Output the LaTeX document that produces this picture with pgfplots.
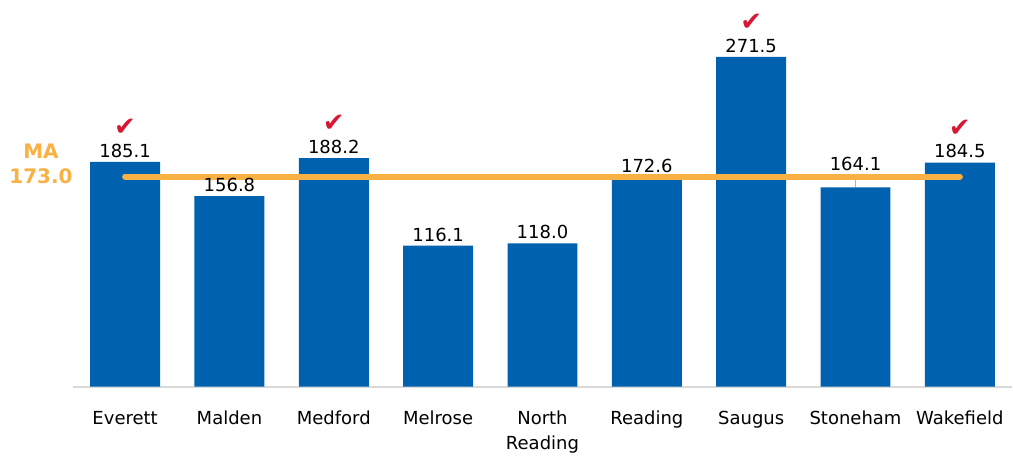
\documentclass[border=0pt]{standalone}
\usepackage{pgfplots}
\pgfplotsset{compat=1.18}
\usepackage{fontspec}
\setmainfont{DejaVu Sans}
\newfontfamily\checkfont{DejaVu Sans}
\definecolor{barblue}{RGB}{0,97,175}
\definecolor{maorange}{RGB}{248,177,66}
\definecolor{checkred}{RGB}{214,24,52}
\definecolor{axisgray}{RGB}{217,217,217}
\newcommand\hh{\vphantom{Mdl}}
\begin{document}
\begin{tikzpicture}
\begin{axis}[
  scale only axis,
  width=470pt, height=182.33pt,
  xmin=-0.5, xmax=8.5, ymin=0, ymax=300,
  clip=false,
  axis x line*=bottom,
  axis y line=none,
  x axis line style={draw=axisgray, line width=1pt, -},
  xtick={0,...,8},
  xticklabels={\hh Everett,\hh Malden,\hh Medford,\hh Melrose,\hh North\\Reading,\hh Reading,\hh Saugus,\hh Stoneham,\hh Wakefield},
  xtick style={draw=none},
  xticklabel style={font=\fontsize{9}{12.5}\selectfont, align=center, anchor=north, yshift=-8.5pt},
  ytick=\empty,
]
\path (axis cs:-1.199,318.4) rectangle (axis cs:8.5,-54.3);
\addplot[ybar, bar shift=0pt, bar width=35pt, fill=barblue, draw=none,
  point meta=explicit symbolic,
  nodes near coords,
  every node near coord/.append style={font=\fontsize{9}{11}\selectfont, text=black, anchor=south, inner sep=2pt}]
  table[meta=lab] {
x y lab
0 185.1 185.1
1 156.8 156.8
2 188.2 188.2
3 116.1 116.1
4 118.0 118.0
5 172.6 172.6
6 271.5 271.5
7 164.1 {}
8 184.5 184.5
};
\draw[gray!60, line width=0.6pt] (axis cs:7,164.1) -- (axis cs:7,173);
\node[font=\fontsize{9}{11}\selectfont, anchor=south, inner sep=2pt, yshift=6pt] at (axis cs:7,164.1) {164.1};
\addplot[maorange, line width=3pt, line cap=round] coordinates {(0,173.0) (8,173.0)};
\addplot[draw=none, mark=none,
  nodes near coords={\checkfont\char"2714},
  every node near coord/.append style={font=\fontsize{13}{13}\selectfont, text=checkred, anchor=south, inner sep=0pt, yshift=13pt}]
  coordinates {(0,185.1) (2,188.2) (6,271.5) (8,184.5)};
\node[font=\fontsize{10}{12.5}\selectfont\bfseries, text=maorange, align=center] at (axis cs:-0.806,183.8) {MA\\173.0};
\end{axis}
\end{tikzpicture}
\end{document}
